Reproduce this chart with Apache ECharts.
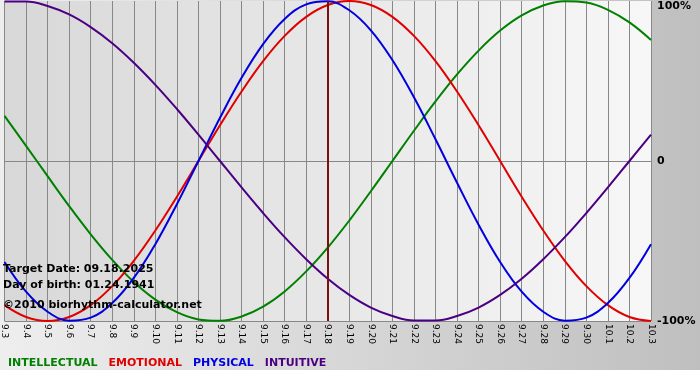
<!DOCTYPE html>
<html lang="en">

<head>
    <meta charset="UTF-8">
    <title>Biorhythm</title>
    <style>
        html, body {
            margin: 0;
            padding: 0;
            background: #fff;
        }

        #bio-chart {
            width: 700px;
            height: 380px;
            background: linear-gradient(to right, #eeeeee, #bfbfbf) no-repeat;
            background-size: 100% 370px;
        }
    </style>
</head>

<body>

    <div id="bio-chart"></div>

    <script src="https://cdn.jsdelivr.net/npm/echarts@6/dist/echarts.min.js"></script>
    <script type="text/javascript">

        // dates 9.3 .. 10.3
        var days = ['9.3', '9.4', '9.5', '9.6', '9.7', '9.8', '9.9', '9.10', '9.11', '9.12', '9.13', '9.14',
            '9.15', '9.16', '9.17', '9.18', '9.19', '9.20', '9.21', '9.22', '9.23', '9.24', '9.25', '9.26',
            '9.27', '9.28', '9.29', '9.30', '10.1', '10.2', '10.3'];

        // values in %
        var intellectual = [28.2, 9.5, -9.5, -28.2, -45.8, -61.8, -75.6, -86.6, -94.5, -99.0, -99.9, -97.2,
            -91.0, -81.5, -69.0, -54.1, -37.2, -18.9, 0, 18.9, 37.2, 54.1, 69.0, 81.5,
            91.0, 97.2, 99.9, 99.0, 94.5, 86.6, 75.6];
        var emotional = [-90.1, -97.5, -100, -97.5, -90.1, -78.2, -62.4, -43.4, -22.3, 0, 22.3, 43.4,
            62.4, 78.2, 90.1, 97.5, 100, 97.5, 90.1, 78.2, 62.4, 43.4, 22.3, 0,
            -22.3, -43.4, -62.4, -78.2, -90.1, -97.5, -100];
        var physical = [-63.1, -81.7, -94.2, -99.8, -97.9, -88.8, -73.1, -52.0, -27.0, 0, 27.0, 52.0,
            73.1, 88.8, 97.9, 99.8, 94.2, 81.7, 63.1, 39.8, 13.6, -13.6, -39.8, -63.1,
            -81.7, -94.2, -99.8, -97.9, -88.8, -73.1, -52.0];
        var intuitive = [99.7, 99.7, 96.9, 91.6, 83.7, 73.6, 61.4, 47.6, 32.5, 16.5, 0, -16.5,
            -32.5, -47.6, -61.4, -73.6, -83.7, -91.6, -96.9, -99.7, -99.7, -96.9, -91.6, -83.7,
            -73.6, -61.4, -47.6, -32.5, -16.5, 0, 16.5];

        var yTicks = { '100': '100%', '0': '0', '-100': '-100%' };
        var targetDay = '9.18';
        var infoLines = ['Target Date: 09.18.2025', 'Day of birth: 01.24.1941', '©2010 biorhythm-calculator.net'];

        var biochart = echarts.init(document.getElementById('bio-chart'));

        function line(name, data, color) {
            return {
                name: name,
                type: 'line',
                data: data,
                smooth: 0.4,
                symbol: 'none',
                lineStyle: { color: color, width: 2 },
                itemStyle: { color: color }
            };
        }

        var series = [
            line('INTELLECTUAL', intellectual, '#008000'),
            line('EMOTIONAL', emotional, '#e00000'),
            line('PHYSICAL', physical, '#0000e0'),
            line('INTUITIVE', intuitive, '#4b0082')
        ];
        series[0].markLine = {
            silent: true,
            symbol: 'none',
            label: { show: false },
            lineStyle: { color: '#7a1010', width: 2, type: 'solid' },
            data: [{ xAxis: targetDay }]
        };

        var font = 'DejaVu Sans';

        option = {
            animation: false,
            backgroundColor: 'transparent',
            grid: {
                left: 1,
                top: 1,
                width: 650,
                height: 320,
                show: true,
                borderWidth: 0,
                backgroundColor: {
                    type: 'linear', x: 0, y: 0, x2: 1, y2: 0,
                    colorStops: [{ offset: 0, color: '#d8d8d8' }, { offset: 1, color: '#f7f7f7' }]
                }
            },
            legend: {
                left: -2,
                top: 353,
                icon: 'rect',
                itemWidth: 0,
                itemHeight: 0,
                itemGap: 6,
                selectedMode: false,
                textStyle: { fontFamily: font, fontWeight: 'bold', fontSize: 11 },
                data: [
                    { name: 'INTELLECTUAL', textStyle: { color: '#008000' } },
                    { name: 'EMOTIONAL', textStyle: { color: '#e00000' } },
                    { name: 'PHYSICAL', textStyle: { color: '#0000e0' } },
                    { name: 'INTUITIVE', textStyle: { color: '#4b0082' } }
                ]
            },
            xAxis: {
                type: 'category',
                data: days,
                boundaryGap: false,
                axisLine: { show: false },
                axisTick: { show: true, length: 4, lineStyle: { color: '#888' } },
                splitLine: { show: true, lineStyle: { color: '#888', width: 1 } },
                axisLabel: {
                    interval: 0,
                    rotate: -90,
                    margin: 3,
                    fontFamily: font,
                    fontSize: 9,
                    color: '#000'
                }
            },
            yAxis: {
                type: 'value',
                position: 'right',
                min: -100,
                max: 100,
                interval: 100,
                axisLine: { show: false },
                axisTick: { show: false },
                splitLine: { show: true, showMaxLine: false, lineStyle: { color: '#888', width: 1 } },
                axisLabel: {
                    margin: 6,
                    fontFamily: font,
                    fontWeight: 'bold',
                    fontSize: 11,
                    color: '#000',
                    verticalAlignMaxLabel: 'top',
                    formatter: function (v) { return yTicks[String(v)]; }
                }
            },
            graphic: infoLines.map(function (t, k) {
                return {
                    type: 'text',
                    left: 3,
                    top: [264, 280, 300][k],
                    z: 100,
                    style: {
                        text: t,
                        fill: '#000',
                        font: 'bold 11px "DejaVu Sans"'
                    }
                };
            }),
            series: series
        };

        biochart.setOption(option);

    </script>
</body>

</html>
